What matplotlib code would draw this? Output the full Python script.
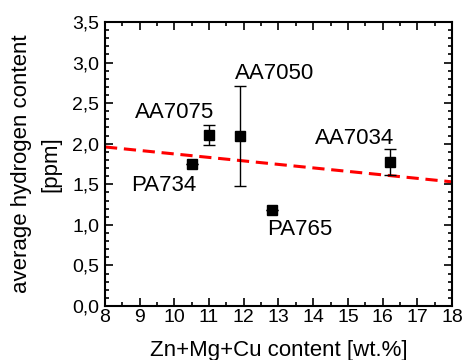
import numpy as np
import matplotlib.pyplot as plt
from matplotlib.ticker import MultipleLocator

plt.rcParams['font.family'] = ['Liberation Sans', 'DejaVu Sans']

# data
alloys = ['PA734', 'AA7075', 'AA7050', 'PA765', 'AA7034']
content = [10.5, 11.0, 11.9, 12.8, 16.2]
hydrogen = [1.75, 2.11, 2.09, 1.18, 1.77]
err_lo = [0.0, 0.13, 0.61, 0.0, 0.15]
err_hi = [0.0, 0.12, 0.62, 0.0, 0.16]
label_x = [9.7, 10.0, 12.9, 13.6, 15.2]
label_y = [1.49, 2.38, 2.87, 0.94, 2.07]

fit_x = [8, 18]
fit_y = [1.96, 1.53]

fig = plt.figure(figsize=(4.64, 3.6), dpi=100)
ax = fig.add_axes([105 / 464, 1 - 306 / 360, 347 / 464, 284 / 360])

ax.plot(fit_x, fit_y, color='#ff0000', linestyle=(0, (4, 2.2)), linewidth=2.2, zorder=1)
ax.errorbar(content, hydrogen, yerr=[err_lo, err_hi], fmt='s', color='black',
            markersize=7, capsize=4, elinewidth=1, capthick=1, zorder=3)

for name, tx, ty in zip(alloys, label_x, label_y):
    ax.text(tx, ty, name, fontsize=16, ha='center', va='center')

ax.set_xlim(8, 18)
ax.set_ylim(0, 3.5)
ax.xaxis.set_major_locator(MultipleLocator(1))
ax.xaxis.set_minor_locator(MultipleLocator(0.5))
ax.yaxis.set_major_locator(MultipleLocator(0.5))
ax.yaxis.set_minor_locator(MultipleLocator(0.1))
ax.yaxis.set_major_formatter(plt.FuncFormatter(lambda v, p: f'{v:.1f}'.replace('.', ',')))

ax.tick_params(which='both', direction='in', top=True, right=True, width=1.2,
               labelsize=14)
ax.tick_params(axis='x', pad=2)
ax.tick_params(axis='y', pad=4)
ax.tick_params(which='major', length=6)
ax.tick_params(which='minor', length=3)
for s in ax.spines.values():
    s.set_linewidth(1.5)

ax.set_xlabel('Zn+Mg+Cu content [wt.%]', fontsize=16, labelpad=10)
ax.set_ylabel('average hydrogen content\n[ppm]', fontsize=16, labelpad=8,
              linespacing=1.5)

fig.savefig('out.png', dpi=100)
